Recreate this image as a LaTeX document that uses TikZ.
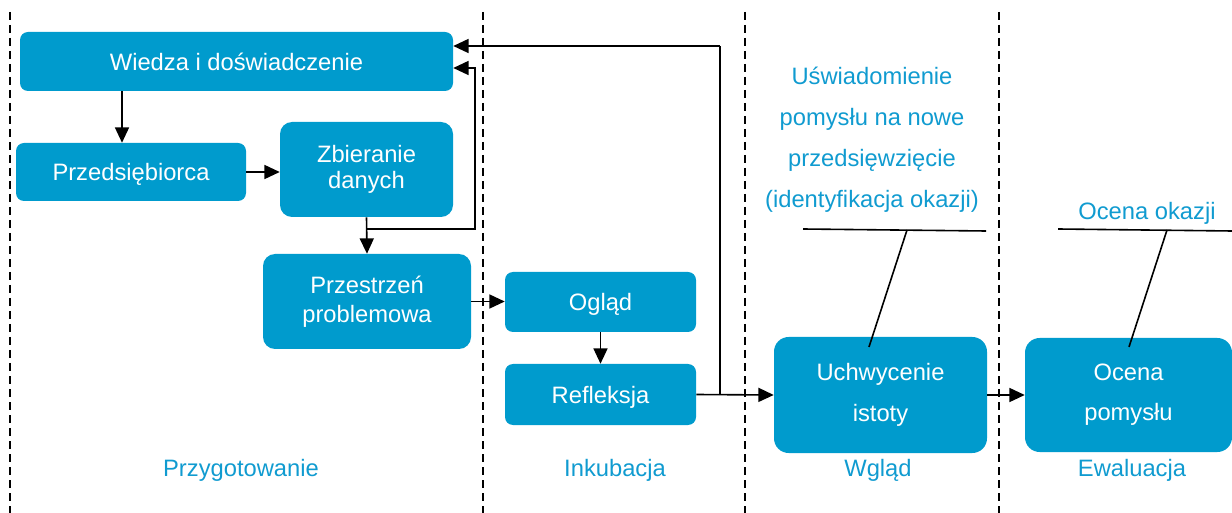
\documentclass[tikz,border=0pt]{standalone}
\usepackage{fontspec}
\setmainfont{Liberation Sans}
\usetikzlibrary{arrows.meta,calc}
\definecolor{boxblue}{RGB}{0,155,205}
\definecolor{labblue}{RGB}{16,155,208}
\tikzset{
  stage/.style={fill=boxblue, text=white, align=center, inner sep=0pt,
    font=\fontsize{17.8}{19.5}\selectfont},
  oneline/.style={text height=12.8pt, text depth=0pt},
  arr/.style={line width=1.2pt, -{Triangle[length=11.5pt,width=10.5pt]}},
  plain/.style={line width=1.2pt},
  divider/.style={line width=1.2pt, dash pattern=on 6pt off 3.75pt},
  phase/.style={text=labblue, font=\fontsize{17.8}{20}\selectfont},
}
\begin{document}
\begin{tikzpicture}[x=0.75pt,y=-0.75pt]
\useasboundingbox (0,0) rectangle (1232,513);

% phase dividers
\draw[divider] (10,12) -- (10,513);
\draw[divider] (483,12) -- (483,513);
\draw[divider] (745,12) -- (745,513);
\draw[divider] (999,12) -- (999,513);

% stages
\node[stage, oneline, rounded corners=6pt, minimum width=324.75pt, minimum height=44.25pt] (wiedza) at (236.5,61.5) {Wiedza i doświadczenie};
\node[stage, oneline, rounded corners=6pt, minimum width=172.5pt, minimum height=43.5pt] (przed) at (131,172) {Przedsiębiorca};
\node[stage, rounded corners=9pt, minimum width=129.75pt, minimum height=71.25pt] (zbier) at (366.5,169.5) {Zbieranie\\danych};
\node[stage, rounded corners=9pt, minimum width=156pt, minimum height=71.25pt,
  font=\fontsize{17.8}{21.75}\selectfont] (przestrz) at (367,301.5) {Przestrzeń\\problemowa};
\node[stage, oneline, rounded corners=6pt, minimum width=143.25pt, minimum height=45pt] (oglad) at (600.5,302) {Ogląd};
\node[stage, oneline, rounded corners=6pt, minimum width=143.25pt, minimum height=45.75pt] (refl) at (600.5,394.5) {Refleksja};
\node[stage, rounded corners=11pt, minimum width=159.75pt, minimum height=87pt,
  font=\fontsize{17.8}{30.75}\selectfont] (uchw) at (880.5,395) {Uchwycenie\\istoty};
\node[stage, rounded corners=11pt, minimum width=155.25pt, minimum height=85.5pt,
  font=\fontsize{17.8}{30}\selectfont] (ocena) at (1128.5,395) {Ocena\\pomysłu};

% flow
\draw[arr] (wiedza.south -| 122,0) -- (przed.north -| 122,0);
\draw[arr] (przed.east) -- (przed.east -| zbier.west);
\draw[arr] (zbier.south) -- (przestrz.north);
\coordinate (j1) at (367,229);
\coordinate (k1) at (475,68);
\draw[arr] (j1) -| (k1) -- (k1 -| wiedza.east);
\draw[arr] (przestrz.east) -- (przestrz.east -| oglad.west);
\draw[arr] (oglad.south) -- (refl.north);
\draw[arr] (refl.east) -- (uchw.west);
\coordinate (j2) at (720,395);
\coordinate (k2) at (720,46);
\draw[plain] (j2) -- (k2);
\draw[arr] (k2) -- (k2 -| wiedza.east);
\draw[arr] (uchw.east) -- (ocena.west);

% callouts
\node[phase, align=center, font=\fontsize{17.8}{30.75}\selectfont] (lab1) at (872,140)
  {Uświadomienie\\pomysłu na nowe\\przedsięwzięcie\\(identyfikacja okazji)};
\coordinate (c1a) at (803,229);
\coordinate (c1b) at (986,231);
\coordinate (c1m) at (907,230);
\coordinate (c1e) at (869,347);
\draw[plain] (c1a) -- (c1b);
\draw[plain] (c1m) -- (c1e);

\node[phase] (lab2) at (1147,213) {Ocena okazji};
\coordinate (c2a) at (1058,229);
\coordinate (c2b) at (1232,231);
\coordinate (c2m) at (1167,230);
\coordinate (c2e) at (1129,347);
\draw[plain] (c2a) -- (c2b);
\draw[plain] (c2m) -- (c2e);

% phase names
\node[phase] (p1) at (241,470) {Przygotowanie};
\node[phase] (p2) at (615,470) {Inkubacja};
\node[phase] (p3) at (878,470) {Wgląd};
\node[phase] (p4) at (1132,470) {Ewaluacja};
\end{tikzpicture}
\end{document}
